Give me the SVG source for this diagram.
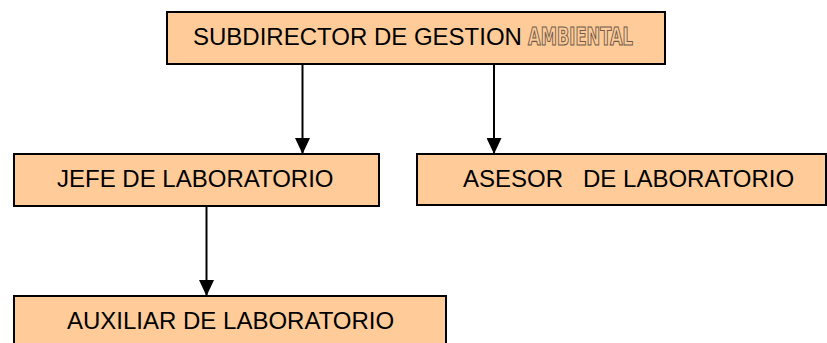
<svg xmlns="http://www.w3.org/2000/svg" width="827" height="343" viewBox="0 0 827 343">
<style>
.box{fill:#FFCC99;stroke:#000;stroke-width:2}
.t{font-family:"Liberation Sans",Arial,sans-serif;font-size:24px;fill:#000}
.o{font-family:"Liberation Sans Narrow","DejaVu Sans Condensed","Liberation Sans",sans-serif;font-size:24px;font-weight:bold;fill:#FFCC99;stroke:#6e5a4a;stroke-width:1.1}
.c{stroke:#000;stroke-width:2;fill:none}
</style>
<defs>
<marker id="ah" viewBox="0 0 16 15" refX="16" refY="7.5" markerWidth="16" markerHeight="15" markerUnits="userSpaceOnUse" orient="auto">
<path d="M0,0 L16,7.5 L0,15 Z" fill="#000"/>
</marker>
</defs>
<rect width="827" height="343" fill="#fff"/>
<g id="connectors">
<line class="c" x1="302.5" y1="64" x2="302.5" y2="154" marker-end="url(#ah)"/>
<line class="c" x1="494" y1="64" x2="494" y2="154" marker-end="url(#ah)"/>
<line class="c" x1="206.5" y1="206" x2="206.5" y2="296" marker-end="url(#ah)"/>
</g>
<g id="subdirector">
<rect class="box" x="167" y="12" width="498" height="52"/>
<text class="t" x="193" y="45">SUBDIRECTOR DE GESTION</text>
<text class="o" x="528" y="45" textLength="105" lengthAdjust="spacingAndGlyphs">AMBIENTAL</text>
</g>
<g id="jefe">
<rect class="box" x="14" y="154" width="365" height="52"/>
<text class="t" x="57" y="187">JEFE DE LABORATORIO</text>
</g>
<g id="asesor">
<rect class="box" x="417" y="154" width="409" height="51"/>
<text class="t" x="463" y="187" xml:space="preserve">ASESOR   DE LABORATORIO</text>
</g>
<g id="auxiliar">
<rect class="box" x="14" y="296" width="432" height="60"/>
<text class="t" x="67" y="329">AUXILIAR DE LABORATORIO</text>
</g>
</svg>
